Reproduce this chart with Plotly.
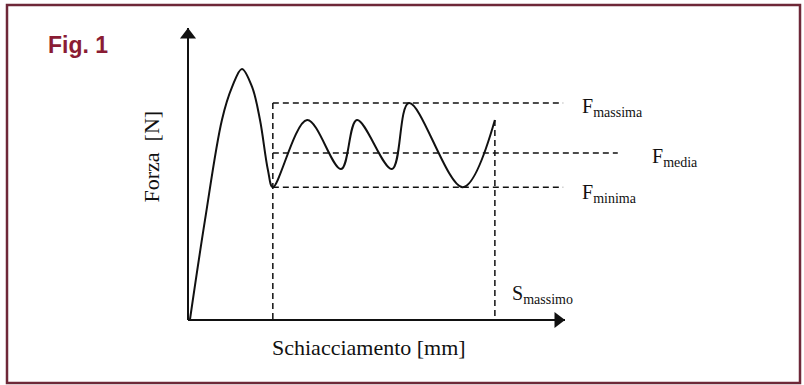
import plotly.graph_objects as go

# Force vs crushing curve (schematic units: mm on x, N on y)
curve_s = [0.5, 4.5, 9.0, 11.7, 14.3, 17.0, 19.1, 21.2, 22.5, 31.6, 40.6, 44.8, 54.1, 58.6, 72.9, 81.4]
curve_f = [0.0, 34.2, 68.5, 79.8, 86.0, 79.8, 68.5, 51.4, 45.5, 68.5, 51.7, 68.5, 51.7, 74.3, 45.5, 68.5]

# Characteristic levels
F_MASSIMA = 74.3
F_MEDIA = 57.2
F_MINIMA = 45.5
S_INIZIO = 22.5
S_MASSIMO = 81.4

# Axis extents
AXIS_X_MAX = 100.0
AXIS_Y_MAX = 100.0

# Drawing geometry (pixels)
W, H = 804, 385
ORIGIN_PX = (188, 320)
PX_PER_MM = 3.77
PX_PER_N = 2.92

x_range = [-ORIGIN_PX[0] / PX_PER_MM, (W - ORIGIN_PX[0]) / PX_PER_MM]
y_range = [-(H - ORIGIN_PX[1]) / PX_PER_N, ORIGIN_PX[1] / PX_PER_N]

LEVEL_END = 99.5      # end of the max / min dashed guides
MEDIA_END = 114.0     # end of the mean dashed guide

INK = "#111111"
SERIF = "Liberation Serif, Times New Roman, serif"
DASH = "6px,4px"

fig = go.Figure()

def seg(xs, ys, width=1.5, dash=DASH):
    fig.add_trace(go.Scatter(x=xs, y=ys, mode="lines",
                             line=dict(color=INK, width=width, dash=dash),
                             hoverinfo="skip"))

# dashed guides
seg([S_INIZIO, S_INIZIO], [F_MASSIMA, 0])
seg([S_MASSIMO, S_MASSIMO], [curve_f[-1], 0])
seg([S_INIZIO, LEVEL_END], [F_MASSIMA, F_MASSIMA])
seg([S_INIZIO, MEDIA_END], [F_MEDIA, F_MEDIA])
seg([S_INIZIO, LEVEL_END], [F_MINIMA, F_MINIMA])

# axes
seg([0, AXIS_X_MAX], [0, 0], width=2, dash="solid")
seg([0, 0], [0, AXIS_Y_MAX], width=2, dash="solid")

# arrow heads (marker centre sits half a marker behind the tip)
HEAD = 14
fig.add_trace(go.Scatter(x=[AXIS_X_MAX - (HEAD / 2) / PX_PER_MM], y=[0], mode="markers",
                         marker=dict(symbol="triangle-right", size=HEAD, color=INK),
                         hoverinfo="skip"))
fig.add_trace(go.Scatter(x=[0], y=[AXIS_Y_MAX - (HEAD / 2) / PX_PER_N], mode="markers",
                         marker=dict(symbol="triangle-up", size=HEAD, color=INK),
                         hoverinfo="skip"))

# the curve
fig.add_trace(go.Scatter(x=curve_s, y=curve_f, mode="lines",
                         line=dict(color=INK, width=2, shape="spline", smoothing=1.0),
                         hoverinfo="skip"))

def label(text, x, y, size=20, xanchor="left", yshift=0, **kw):
    fig.add_annotation(text=text, x=x, y=y, xref="x", yref="y", showarrow=False,
                       xanchor=xanchor, yanchor="middle", yshift=yshift,
                       font=dict(family=SERIF, size=size, color=INK), **kw)

label("F<sub>massima</sub>", 104, F_MASSIMA, yshift=-4)
label("F<sub>media</sub>", 122.5, F_MEDIA, yshift=-5)
label("F<sub>minima</sub>", 104, F_MINIMA, yshift=-6)
label("S<sub>massimo</sub>", 85.4, 8.6, size=20)
label("Schiacciamento [mm]", AXIS_X_MAX / 2 - 2, 0, size=22, xanchor="center", yshift=-27)
label("Forza  [N]", -9.8, 56, size=22, xanchor="center", textangle=-90)

fig.add_annotation(text="<b>Fig. 1</b>", x=46 / W, y=1 - 45 / H, xref="paper", yref="paper",
                   showarrow=False, xanchor="left", yanchor="middle",
                   font=dict(family="Liberation Sans, Arial, sans-serif", size=23, color="#8a1c34"))

# frame
fig.add_shape(type="rect", xref="paper", yref="paper",
              x0=7 / W, x1=800 / W, y0=1 - 383 / H, y1=1 - 5 / H,
              line=dict(color="#6e2838", width=2.5))

fig.update_layout(width=W, height=H, margin=dict(l=0, r=0, t=0, b=0),
                  paper_bgcolor="white", plot_bgcolor="white", showlegend=False,
                  xaxis=dict(range=x_range, visible=False, fixedrange=True),
                  yaxis=dict(range=y_range, visible=False, fixedrange=True))

fig.write_html("out.html", config={"displayModeBar": False})
